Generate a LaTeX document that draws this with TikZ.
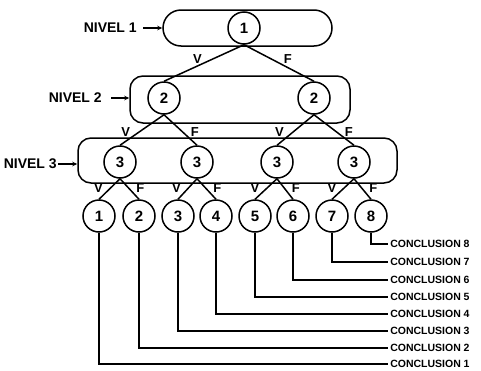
\documentclass[tikz,border=0pt]{standalone}
\usepackage{fontspec}
\setmainfont{Liberation Sans}
\usetikzlibrary{arrows.meta}
\begin{document}
\begin{tikzpicture}[x=1pt,y=-1pt,line width=1.5pt,
  state/.style={draw, circle, minimum size=32pt, inner sep=0pt, fill=white,
    font=\bfseries\fontsize{15}{15}\selectfont},
  levelbox/.style={draw, rectangle, inner sep=0pt},
  branch/.style={font=\bfseries\fontsize{13}{13}\selectfont, inner sep=0pt},
  levellabel/.style={font=\bfseries\fontsize{14}{14}\selectfont, inner sep=0pt, anchor=west},
  conclabel/.style={font=\bfseries\fontsize{10.5}{10.5}\selectfont, inner sep=1.5pt, anchor=west},
  levelarrow/.style={-{Stealth[length=5pt,width=4.5pt]}, line width=1.3pt},
  wire/.style={line width=1.3pt}]
\useasboundingbox (0,0) rectangle (481,370);

% level containers
\node[levelbox, minimum width=169pt, minimum height=36pt, rounded corners=18pt] (box1) at (247.5,28) {};
\node[levelbox, minimum width=220pt, minimum height=47pt, rounded corners=13pt] (box2) at (240,99.5) {};
\node[levelbox, minimum width=319pt, minimum height=45pt, rounded corners=13pt] (box3) at (237.5,160.5) {};

% level labels
\node[levellabel] (niv1) at (83,28) {NIVEL 1};
\node[levellabel] (niv2) at (48,98) {NIVEL 2};
\node[levellabel] (niv3) at (3,164) {NIVEL 3};
\draw[levelarrow, shorten <=6pt] (niv1.east) -- (box1.west |- niv1.east);
\draw[levelarrow, shorten <=9pt] (niv2.east) -- (box2.west |- niv2.east);
\draw[levelarrow, shorten <=1pt] (niv3.east) -- (box3.west |- niv3.east);

% decision nodes
\node[state] (a) at (244,28) {1};
\node[state] (b1) at (164,98) {2};
\node[state] (b2) at (314,98) {2};
\node[state] (c1) at (120,162) {3};
\node[state] (c2) at (197,162) {3};
\node[state] (c3) at (277,162) {3};
\node[state] (c4) at (354,162) {3};
\foreach \i/\x in {1/99,2/139,3/178,4/216,5/255,6/293,7/332,8/371}
  \node[state] (d\i) at (\x,216) {\i};

% branches
\draw (a.south) -- node[branch, pos=0.38, left=11pt] {V} (b1.north);
\draw (a.south) -- node[branch, pos=0.40, right=11pt] {F} (b2.north);
\foreach \p/\l/\r in {b1/c1/c2, b2/c3/c4}{
  \draw (\p.south) -- node[branch, pos=0.55, left=9pt] {V} (\l.north);
  \draw (\p.south) -- node[branch, pos=0.55, right=8pt] {F} (\r.north);
}
\foreach \p/\l/\r in {c1/d1/d2, c2/d3/d4, c3/d5/d6, c4/d7/d8}{
  \draw (\p.south) -- node[branch, pos=0.45, left=7pt] {V} (\l.north);
  \draw (\p.south) -- node[branch, pos=0.45, right=7pt] {F} (\r.north);
}

% conclusions
\foreach \i/\y in {8/244,7/262,6/280,5/297,4/314,3/331,2/348,1/364}{
  \node[conclabel] (k\i) at (388,\y) {CONCLUSION \i};
  \draw[wire] (d\i.south) |- (k\i.west);
}
\end{tikzpicture}
\end{document}
